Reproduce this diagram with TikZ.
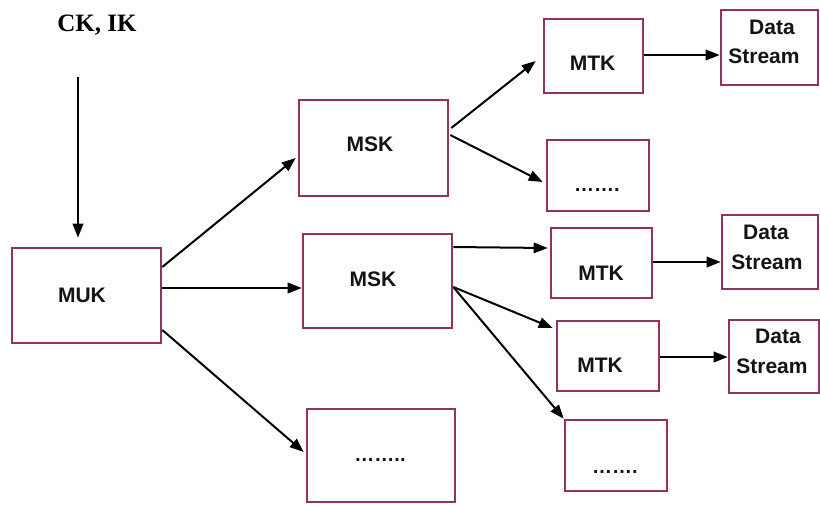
\documentclass[tikz,border=0pt]{standalone}
\usepackage{fontspec}
\setmainfont{Liberation Sans}
\newfontfamily\serifbold{Liberation Serif}
\usetikzlibrary{arrows.meta}
\definecolor{boxcol}{RGB}{145,50,98}
\tikzset{
  box/.style={draw=boxcol, line width=2.6pt, rectangle, inner sep=0pt, fill=white},
  lbl/.style={inner sep=0pt, font=\bfseries\fontsize{21}{24}\selectfont, text=black!92},
  dotlbl/.style={inner sep=0pt, font=\bfseries\fontsize{20}{24}\selectfont, text=black!92},
  arr/.style={line width=2pt, -{Triangle[length=14pt,width=10.5pt]}},
}
\begin{document}
\begin{tikzpicture}[x=1pt,y=-1pt]
\useasboundingbox (0,0) rectangle (820,504);
% boxes
\node[box, minimum width=149pt, minimum height=95pt] (muk) at (86.5,295.5) {};
\node[box, minimum width=149pt, minimum height=96pt] (msk1) at (373.5,148) {};
\node[box, minimum width=149pt, minimum height=94pt] (msk2) at (377.5,281) {};
\node[box, minimum width=148pt, minimum height=93pt] (dotsB) at (381,455.5) {};
\node[box, minimum width=99pt, minimum height=74pt] (mtk1) at (593.5,56) {};
\node[box, minimum width=102pt, minimum height=71pt] (dots1) at (598,175.5) {};
\node[box, minimum width=101pt, minimum height=70pt] (mtk2) at (601.5,263) {};
\node[box, minimum width=102pt, minimum height=70pt] (mtk3) at (608,356) {};
\node[box, minimum width=102pt, minimum height=71pt] (dots2) at (616,455.5) {};
\node[box, minimum width=97pt, minimum height=75pt] (ds1) at (769.5,47.5) {};
\node[box, minimum width=96pt, minimum height=74pt] (ds2) at (770,252) {};
\node[box, minimum width=90pt, minimum height=73pt] (ds3) at (774,356.5) {};
% texts
\node[inner sep=0pt, font=\serifbold\bfseries\fontsize{25}{28}\selectfont] (ckik) at (97,25) {CK, IK};
\node[lbl] (mukt) at (82,295) {MUK};
\node[lbl] (msk1t) at (370,144) {MSK};
\node[lbl] (msk2t) at (373,279) {MSK};
\node[lbl] (mtk1t) at (592.5,63) {MTK};
\node[lbl] (mtk2t) at (601,273) {MTK};
\node[lbl] (mtk3t) at (600,365) {MTK};
\node[lbl] (ds1a) at (772,27) {Data};
\node[lbl] (ds1b) at (764,56) {Stream};
\node[lbl] (ds2a) at (766,232) {Data};
\node[lbl] (ds2b) at (767,262) {Stream};
\node[lbl] (ds3a) at (778,336) {Data};
\node[lbl] (ds3b) at (772,366) {Stream};
\node[dotlbl] (dots1t) at (597,190) {…….};
\node[dotlbl] (dots2t) at (615,472) {…….};
\node[dotlbl] (dotsBt) at (380,460) {……..};
% arrows
\coordinate (ckstart) at (78,77);
\draw[arr] (ckstart) -- ([xshift=-8.5pt,yshift=9pt]muk.north);
\draw[arr] ([yshift=28.5pt]muk.east) -- ([xshift=-2pt,yshift=-10pt]msk1.west);
\draw[arr] ([yshift=7.5pt]muk.east) -- ([yshift=-7pt]msk2.west);
\draw[arr] ([yshift=-34.5pt]muk.east) -- ([xshift=-2pt,yshift=3.5pt]dotsB.west);
\draw[arr] ([xshift=2pt,yshift=20pt]msk1.east) -- ([xshift=-7pt,yshift=-5pt]mtk1.west);
\draw[arr] ([xshift=1pt,yshift=13pt]msk1.east) -- ([xshift=-3pt,yshift=-6.5pt]dots1.west);
\draw[arr] ([yshift=34pt]msk2.east) -- ([xshift=-2pt,yshift=15pt]mtk2.west);
\draw[arr] ([yshift=-6pt]msk2.east) -- ([xshift=-3pt,yshift=28pt]mtk3.west);
\draw[arr] ([yshift=-6pt]msk2.east) -- (dots2.north west);
\draw[arr] ([yshift=1pt]mtk1.east) -- ([yshift=-7.5pt]ds1.west);
\draw[arr] ([yshift=1pt]mtk2.east) -- ([yshift=-10pt]ds2.west);
\draw[arr] ([yshift=-1pt]mtk3.east) -- ([yshift=-0.5pt]ds3.west);
\end{tikzpicture}
\end{document}
